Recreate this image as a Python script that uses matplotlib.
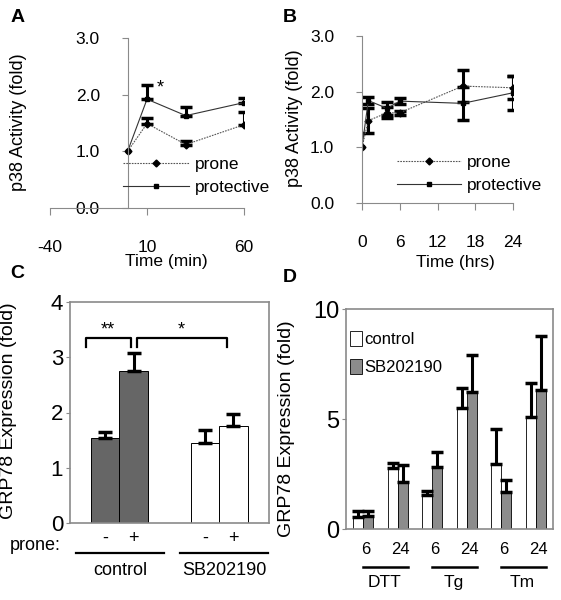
import matplotlib
matplotlib.use('Agg')
import matplotlib.pyplot as plt
import numpy as np

plt.rcParams['font.family'] = ['Liberation Sans', 'DejaVu Sans']
plt.rcParams['axes.unicode_minus'] = False

# ---- panel A: p38 activity, minutes
a_time = [0, 10, 30, 60]
a_prone = [1.0, 1.49, 1.12, 1.47]
a_prone_err = [0, 0.10, 0.07, 0.23]
a_prot = [1.0, 1.92, 1.63, 1.86]
a_prot_err = [0, 0.25, 0.15, 0.08]

# ---- panel B: p38 activity, hours
b_time = [0, 1, 4, 6, 16, 24]
b_prone = [1.0, 1.48, 1.62, 1.62, 2.10, 2.07]
b_prone_err = [0, 0.22, 0.10, 0.04, 0.29, 0.21]
b_prot = [1.0, 1.84, 1.70, 1.83, 1.79, 1.98]
b_prot_err = [0, 0.07, 0.12, 0.06, 0.29, 0.31]

# ---- panel C: GRP78 expression, prone -/+
c_groups = ['control', 'SB202190']
c_signs = ['-', '+', '-', '+']
c_pos = [1, 2, 4.5, 5.5]
c_vals = [1.54, 2.76, 1.44, 1.76]
c_err = [0.11, 0.32, 0.24, 0.22]

# ---- panel D: GRP78 expression per treatment / time
d_times = ['6', '24', '6', '24', '6', '24']
d_treat = ['DTT', 'Tg', 'Tm']
d_control = [0.54, 2.77, 1.53, 5.52, 2.95, 5.11]
d_control_err = [0.26, 0.23, 0.22, 0.91, 1.60, 1.52]
d_sb = [0.57, 2.13, 2.81, 6.22, 1.68, 6.32]
d_sb_err = [0.23, 0.79, 0.71, 1.69, 0.56, 2.45]

GRAY = '#8a8a8a'
DARK = '#666666'

fig = plt.figure(figsize=(5.61, 6.0), dpi=100)


def line_panel(ax, t, prone, prone_err, prot, prot_err, xlim, xticks, one_sided):
    # the baseline point (t=0) has no error bar
    for y, e in [(prone, prone_err), (prot, prot_err)]:
        tt, yy, ee = np.array(t[1:]), np.array(y[1:]), np.array(e[1:])
        yerr = [np.zeros(len(ee)), ee] if one_sided else ee
        ax.errorbar(tt, yy, yerr=yerr, fmt='none', ecolor='black',
                    elinewidth=2.2, capsize=4, capthick=2.5)
    ax.plot(t, prone, ls=(0, (1.5, 1)), color='#555555', lw=0.8, marker='D', ms=3.5,
            mfc='black', mec='black', label='prone')
    ax.plot(t, prot, ls='-', color='#333333', lw=0.8, marker='s', ms=3.5,
            mfc='black', mec='black', label='protective')
    ax.set_xlim(*xlim)
    ax.set_ylim(0, 3)
    for s in ['top', 'right']:
        ax.spines[s].set_visible(False)
    ax.spines['left'].set_position(('data', 0))
    for s in ['left', 'bottom']:
        ax.spines[s].set_color(GRAY)
        ax.spines[s].set_linewidth(0.8)
    ax.set_yticks([0, 1, 2, 3])
    ax.set_yticklabels(['0.0', '1.0', '2.0', '3.0'])
    ax.set_xticks(xticks)
    ax.tick_params(axis='y', direction='out', length=4, width=0.8, color=GRAY,
                   labelsize=12.5, pad=16)
    ax.tick_params(axis='x', direction='out', length=5, width=0.8, color=GRAY,
                   labelsize=12.5, pad=18)
    ax.set_ylabel('p38 Activity (fold)', fontsize=13)
    ax.set_facecolor('none')


# ---- A (one-sided upper error bars)
axA = fig.add_axes([50 / 561, 1 - 208 / 600, 194 / 561, 170 / 600])
line_panel(axA, a_time, a_prone, a_prone_err, a_prot, a_prot_err,
           (-40, 60), [-40, 10, 60], True)
axA.set_xlabel('Time (min)', fontsize=12.5)
axA.xaxis.set_label_coords((166 - 50) / 194, -(254 - 208) / 170)
axA.yaxis.set_label_coords((27 - 50) / 194, (208 - 122) / 170)
axA.text(15, 2.12, '*', fontsize=13, ha='left', va='center')
axA.legend(loc='center left', bbox_to_anchor=((123 - 50) / 194, (208 - 176) / 170),
           frameon=False, fontsize=12.5, handlelength=3.8, handletextpad=0.35,
           borderpad=0, borderaxespad=0, labelspacing=0.45)

# ---- B
axB = fig.add_axes([362 / 561, 1 - 203 / 600, 151 / 561, 167 / 600])
line_panel(axB, b_time, b_prone, b_prone_err, b_prot, b_prot_err,
           (0, 24), [0, 6, 12, 18, 24], False)
axB.set_xlabel('Time (hrs)', fontsize=12.5)
axB.xaxis.set_label_coords((455 - 362) / 151, -(255 - 203) / 167)
axB.yaxis.set_label_coords((303 - 362) / 151, (203 - 118) / 167)
axB.legend(loc='center left', bbox_to_anchor=((397 - 362) / 151, (203 - 174) / 167),
           frameon=False, fontsize=12.5, handlelength=3.7, handletextpad=0.35,
           borderpad=0, borderaxespad=0, labelspacing=0.45)

# ---- C
axC = fig.add_axes([70 / 561, 1 - 523 / 600, 199 / 561, 221 / 600])
colors_c = [DARK, DARK, 'white', 'white']
axC.bar(c_pos, c_vals, width=1.0, color=colors_c, edgecolor='black', linewidth=0.7)
axC.errorbar(c_pos, c_vals, yerr=[np.zeros(4), c_err], fmt='none', ecolor='black',
             elinewidth=2.2, capsize=5, capthick=2.5)
axC.set_xlim(-0.23, 6.75)
axC.set_ylim(0, 4)
axC.set_yticks([0, 1, 2, 3, 4])
axC.set_xticks([])
for s in axC.spines.values():
    s.set_color(GRAY)
    s.set_linewidth(1.2)
axC.tick_params(axis='y', direction='out', length=3, color=GRAY, labelsize=16, pad=2)
axC.set_ylabel('GRP78 Expression (fold)', fontsize=14)
axC.yaxis.set_label_coords((17 - 70) / 199, (523 - 411) / 221)
tc = axC.get_xaxis_transform()
for x, s in zip(c_pos, c_signs):
    axC.text(x, -0.07, s, transform=tc, ha='center', va='center', fontsize=13)
axC.text(-0.23 - 60 / 28.5, -0.1, 'prone:', transform=tc, ha='left', va='center', fontsize=13)
for (x0, x1), g in zip([(-0.02, 3.07), (3.63, 6.72)], c_groups):
    axC.plot([x0, x1], [-0.136, -0.136], transform=tc, color='black', lw=1.6, clip_on=False)
    axC.text((x0 + x1) / 2, -0.213, g, transform=tc, ha='center', va='center', fontsize=13)
# significance brackets
axC.plot([0.33, 0.33, 1.91, 1.91], [3.18, 3.35, 3.35, 3.18], color='black', lw=1.6)
axC.plot([2.12, 2.12, 5.28, 5.28], [3.18, 3.35, 3.35, 3.18], color='black', lw=1.6)
axC.text(1.1, 3.5, '**', ha='center', va='center', fontsize=13)
axC.text(3.67, 3.5, '*', ha='center', va='center', fontsize=13)

# ---- D
axD = fig.add_axes([346 / 561, 1 - 529 / 600, 207 / 561, 220 / 600])
xd = np.arange(len(d_times))
w = 0.29
axD.bar(xd - w / 2, d_control, width=w, color='white', edgecolor='black', linewidth=0.6,
        label='control')
axD.bar(xd + w / 2, d_sb, width=w, color='#8c8c8c', edgecolor='black', linewidth=0.6,
        label='SB202190')
axD.errorbar(xd - w / 2, d_control, yerr=[np.zeros(6), d_control_err], fmt='none',
             ecolor='black', elinewidth=2.2, capsize=4, capthick=2.5)
axD.errorbar(xd + w / 2, d_sb, yerr=[np.zeros(6), d_sb_err], fmt='none',
             ecolor='black', elinewidth=2.2, capsize=4, capthick=2.5)
axD.set_xlim(-0.5, 5.5)
axD.set_ylim(0, 10)
axD.set_yticks([0, 5, 10])
axD.set_xticks([])
for s in axD.spines.values():
    s.set_color(GRAY)
    s.set_linewidth(1.2)
axD.tick_params(axis='y', direction='out', length=3, color=GRAY, labelsize=17, pad=2)
axD.set_ylabel('GRP78 Expression (fold)', fontsize=14)
axD.yaxis.set_label_coords((295 - 346) / 207, (529 - 429) / 220)
td = axD.get_xaxis_transform()
for x, s in zip(xd, d_times):
    axD.text(x + 0.07, -0.095, s, transform=td, ha='center', va='center', fontsize=12)
for i, g in enumerate(d_treat):
    x0 = 2 * i
    axD.plot([x0, x0 + 1.3], [-0.173, -0.173], transform=td, color='black', lw=1.8,
             clip_on=False)
    axD.text(x0 + 0.62, -0.245, g, transform=td, ha='center', va='center', fontsize=12.5)
axD.legend(loc='upper left', bbox_to_anchor=(0.02, 0.9), frameon=False, fontsize=12,
           handlelength=0.7, handleheight=1.0, handletextpad=0.15, borderpad=0,
           borderaxespad=0, labelspacing=0.7)

# panel letters
for x, y, s in [(18, 17, 'A'), (290, 17, 'B'), (17, 273, 'C'), (290, 278, 'D')]:
    fig.text(x / 561, 1 - y / 600, s, fontsize=14, fontweight='bold', ha='center', va='center')

fig.savefig('out.png', dpi=100)
